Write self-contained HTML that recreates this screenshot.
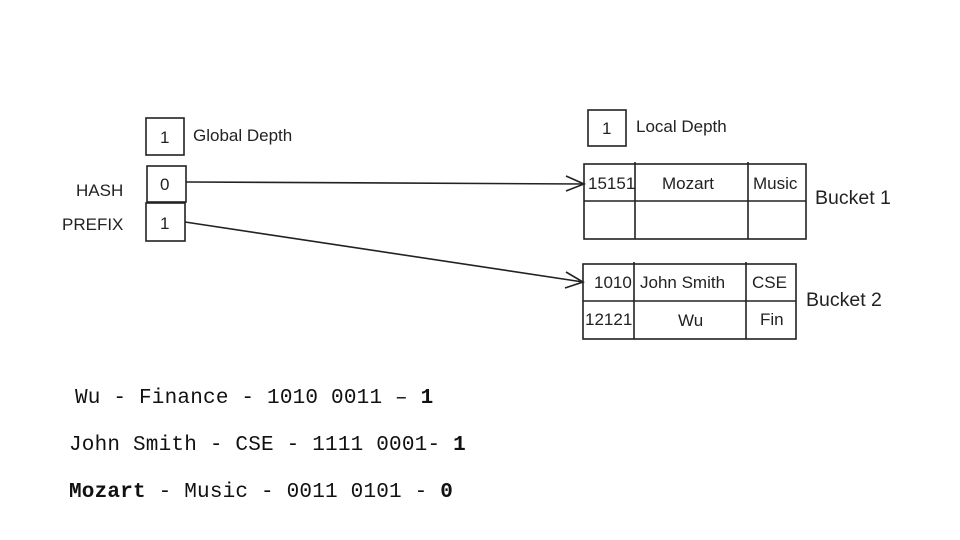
<!DOCTYPE html>
<html><head><meta charset="utf-8"><style>
html,body{margin:0;padding:0;background:#fff;width:960px;height:540px;overflow:hidden}
svg{display:block}
.h{font-family:"Liberation Sans",sans-serif;font-size:17px;fill:#222}
.m{font-family:"Liberation Mono",monospace;font-size:21px;letter-spacing:0.2px;fill:#111}
</style></head><body>
<svg width="960" height="540" viewBox="0 0 960 540">
<g fill="none" stroke="#222" stroke-width="1.6">
<rect x="146" y="118" width="38" height="37"/>
<rect x="147" y="166" width="39" height="36"/>
<rect x="146" y="203" width="39" height="38"/>
<rect x="588" y="110" width="38" height="36"/>
<rect x="584" y="164" width="222" height="75"/>
<line x1="584" y1="201" x2="806" y2="201"/>
<line x1="635" y1="162" x2="635" y2="239"/>
<line x1="748" y1="162" x2="748" y2="239"/>
<rect x="583" y="264" width="213" height="75"/>
<line x1="583" y1="301" x2="796" y2="301"/>
<line x1="634" y1="262" x2="634" y2="339"/>
<line x1="746" y1="262" x2="746" y2="339"/>
<line x1="186" y1="182" x2="584" y2="184"/>
<polyline points="566,176 584,184 566,191"/>
<line x1="185" y1="222" x2="583" y2="282"/>
<polyline points="566,272 583,282 565,288"/>
</g>
<text class="h" x="160" y="143">1</text>
<text class="h" x="193" y="141">Global Depth</text>
<text class="h" x="160" y="190">0</text>
<text class="h" x="160" y="229">1</text>
<text class="h" x="76" y="196">HASH</text>
<text class="h" x="62" y="230">PREFIX</text>
<text class="h" x="602" y="134">1</text>
<text class="h" x="636" y="132">Local Depth</text>
<text class="h" x="588" y="189">15151</text>
<text class="h" x="662" y="189">Mozart</text>
<text class="h" x="753" y="189">Music</text>
<text class="h" x="815" y="204" style="font-size:19.5px">Bucket 1</text>
<text class="h" x="594" y="288">1010</text>
<text class="h" x="640" y="288">John Smith</text>
<text class="h" x="752" y="288">CSE</text>
<text class="h" x="585" y="325">12121</text>
<text class="h" x="678" y="326">Wu</text>
<text class="h" x="760" y="325">Fin</text>
<text class="h" x="806" y="306" style="font-size:19.5px">Bucket 2</text>
<text class="m" x="75" y="403">Wu - Finance - 1010 0011 – <tspan font-weight="bold">1</tspan></text>
<text class="m" x="69" y="450">John Smith - CSE - 1111 0001- <tspan font-weight="bold">1</tspan></text>
<text class="m" x="69" y="497"><tspan font-weight="bold">Mozart</tspan> - Music - 0011 0101 - <tspan font-weight="bold">0</tspan></text>
</svg>
</body></html>
